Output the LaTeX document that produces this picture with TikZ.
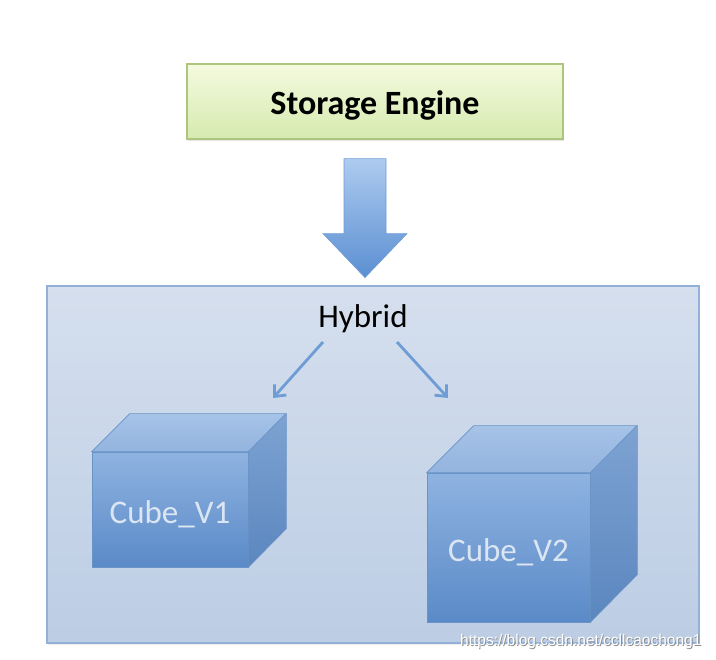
\documentclass[tikz,border=0pt]{standalone}
\usepackage{fontspec}
\setmainfont{Carlito}
\newfontfamily\markfont{Liberation Sans}
\usepackage{tikz}
\usetikzlibrary{arrows.meta}
\usetikzlibrary{calc}
\usetikzlibrary{shadows}
\definecolor{engtop}{HTML}{F4FADF}
\definecolor{engbot}{HTML}{D6EAAF}
\definecolor{engedge}{HTML}{ADC67F}
\definecolor{laytop}{HTML}{D5DFEE}
\definecolor{laybot}{HTML}{BCCDE4}
\definecolor{layedge}{HTML}{93B1D8}
\definecolor{arrtop}{HTML}{ADCBEF}
\definecolor{arrbot}{HTML}{5B8FD2}
\definecolor{arredge}{HTML}{6E9CD5}
\definecolor{fronttop}{HTML}{8FB3E1}
\definecolor{frontbot}{HTML}{5A8AC7}
\definecolor{lidtop}{HTML}{A6C3E7}
\definecolor{lidbot}{HTML}{93B4DF}
\definecolor{sidetop}{HTML}{7EA3D2}
\definecolor{sidebot}{HTML}{5A86BF}
\definecolor{cubeedge}{HTML}{6A93C6}
\definecolor{cubetext}{HTML}{DCE6F3}
\colorlet{ptrblue}{arredge}
\colorlet{wmshadow}{black!45}
\newcommand\bigfont{\fontsize{33}{40}\selectfont}
\newcommand\wmark[1]{\rlap{\kern.8pt\raisebox{-.8pt}{\textcolor{wmshadow}{#1}}}\textcolor{white}{#1}}
\tikzstyle{engine}=[draw=engedge,line width=1.2pt,top color=engtop,bottom color=engbot,
  minimum width=376pt,minimum height=75pt,inner sep=0pt,text height=27pt,text depth=0pt,
  drop shadow={opacity=.2,shadow xshift=1pt,shadow yshift=-2pt},
  font=\fontsize{34}{40}\selectfont\bfseries]
\tikzstyle{layer}=[draw=layedge,line width=1.5pt,top color=laytop,bottom color=laybot,
  minimum width=652pt,minimum height=357pt,inner sep=0pt,
  drop shadow={opacity=.15,shadow xshift=1pt,shadow yshift=-2pt}]
\tikzstyle{bigarrow}=[draw=arredge,line width=.6pt,top color=arrtop,bottom color=arrbot]
\tikzstyle{plain}=[font=\bigfont,inner sep=0pt]
\tikzstyle{front}=[draw=cubeedge,line width=.6pt,top color=fronttop,bottom color=frontbot,
  inner sep=0pt,text=cubetext,text height=28pt,text depth=0pt,font=\bigfont]
\tikzstyle{lid}=[draw=cubeedge,line width=.6pt,top color=lidtop,bottom color=lidbot]
\tikzstyle{sideface}=[draw=cubeedge,line width=.6pt,top color=sidetop,bottom color=sidebot]
\tikzstyle{ptr}=[draw=ptrblue,line width=2.8pt,-{Straight Barb[length=9pt,width=16pt]}]
% name, x, y, width, height, depth, text
\newcommand\cubebox[7]{%
  \node[front,minimum width=#4pt,minimum height=#5pt] (#1) at (#2,#3) {#7};
  \path[lid] (#1.north west) -- ++(#6,-#6) -- ++(#4,0) -- (#1.north east) -- cycle;
  \path[sideface] (#1.north east) -- ++(#6,-#6) -- ++(0,#5) -- (#1.south east) -- cycle;
}

\begin{document}
\begin{tikzpicture}[x=1pt,y=-1pt]
	\useasboundingbox (0,0) rectangle (716,660);
	\node[engine] (engine) at (375,101.5) {Storage Engine};
	\node[layer] (layer) at (373,464.5) {};
	% block arrow
	\coordinate (shaft) at ($(engine.south)+(-10,19)$);
	\path[bigarrow] ($(shaft)+(-21,0)$) -- ($(shaft)+(21,0)$) -- ++(0,75) -- ++(21,0)
	  -- ($(shaft)+(0,119)$) -- ($(shaft)+(-42,75)$) -- ++(21,0) -- cycle;
	\node[plain,anchor=base] (hybrid) at (363,328) {Hybrid};
	\cubebox{v1}{170}{509.5}{156}{115}{38}{Cube\_V1}
	\cubebox{v2}{508.5}{547.5}{163}{149}{47}{Cube\_V2}
	\coordinate (h1) at ($(hybrid.base)+(-40,14)$);
	\coordinate (h2) at ($(hybrid.base)+(34,14)$);
	\coordinate (t1) at ($(hybrid.base)+(-90,70)$);
	\coordinate (t2) at ($(hybrid.base)+(85,70)$);
	\draw[ptr] (h1) -- (t1);
	\draw[ptr] (h2) -- (t2);
	\node[anchor=base west,inner sep=0pt,font=\markfont\fontsize{15.5}{18}\selectfont] (mark) at (460,646) {\wmark{https://blog.csdn.net/ccllcaochong1}};
\end{tikzpicture}
\end{document}
